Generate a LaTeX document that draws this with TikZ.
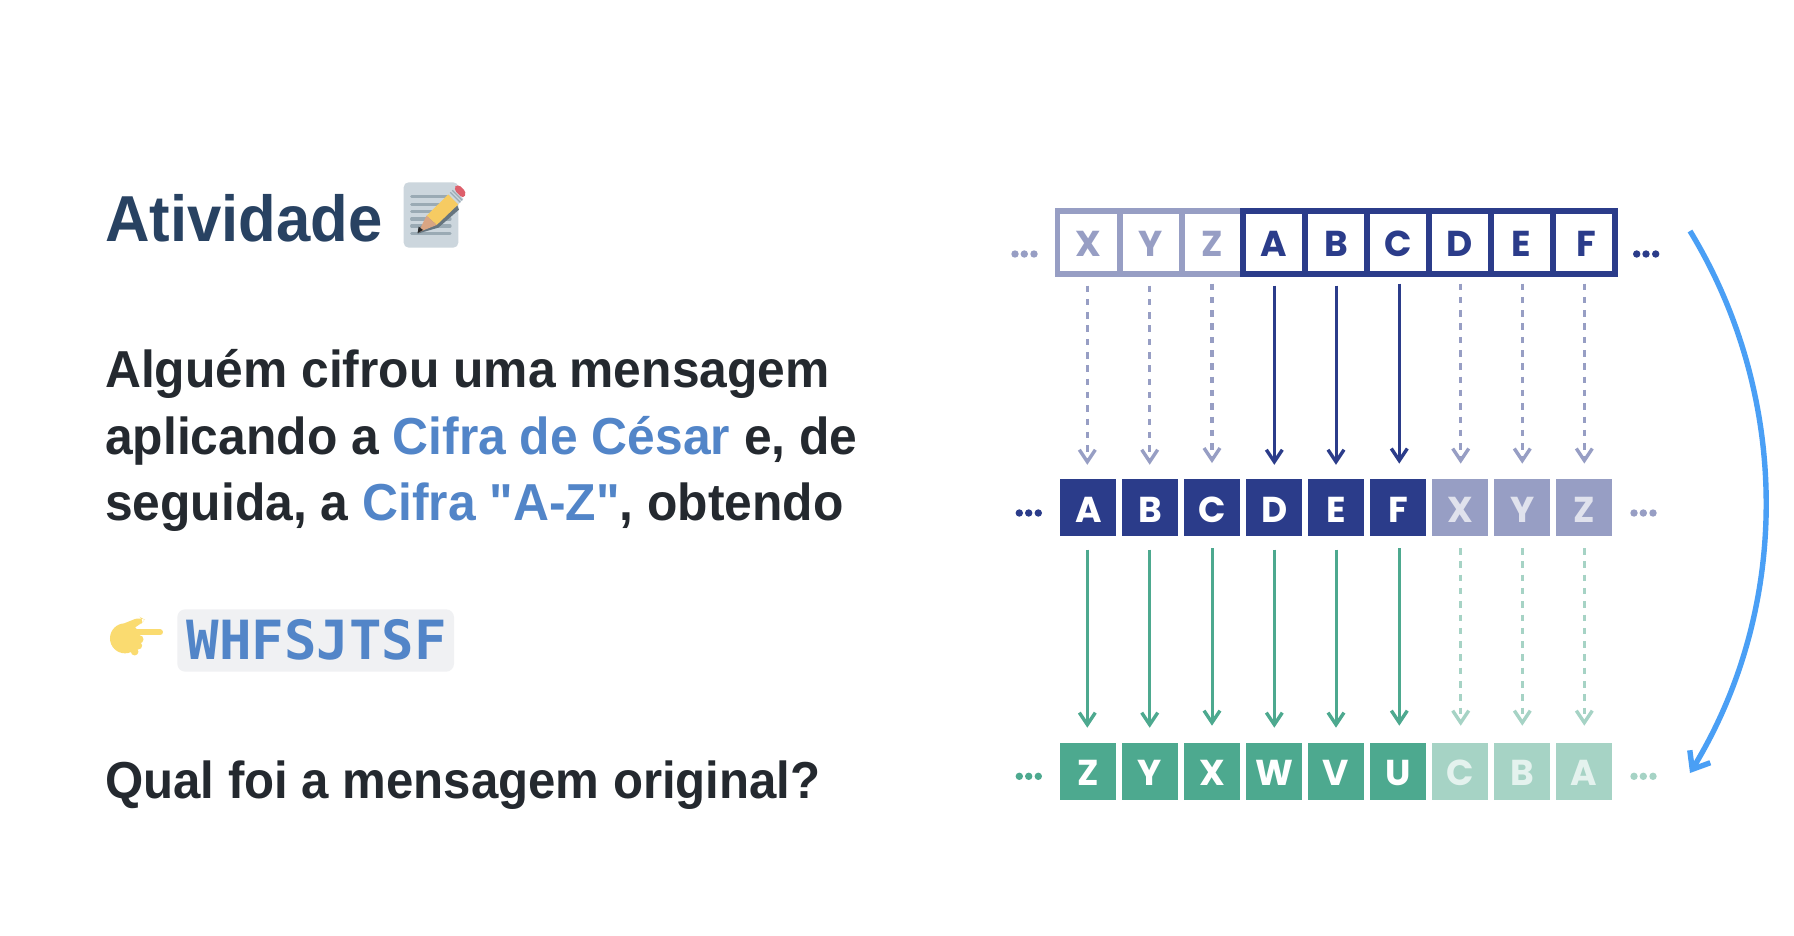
\documentclass[tikz,border=0pt]{standalone}
\usepackage{fontspec}
\setmainfont{Liberation Sans}
\newfontfamily\bodyf{Liberation Sans}[FakeStretch=0.957]
\newfontfamily\bodyg{Liberation Sans}[FakeStretch=0.945]
\newfontfamily\titlef{Liberation Sans}[FakeStretch=0.948]
\newfontfamily\popf{Poppins}
\newfontfamily\monof{DejaVu Sans Mono}
\usetikzlibrary{arrows.meta}
\definecolor{navy}{HTML}{2B3C8A}
\definecolor{navyl}{HTML}{979EC4}
\definecolor{grn}{HTML}{4DA98F}
\definecolor{grnl}{HTML}{A6D3C5}
\definecolor{blu}{HTML}{4A9FF5}
\definecolor{ttl}{HTML}{284262}
\definecolor{ink}{HTML}{24292F}
\definecolor{lnk}{HTML}{5285C8}
\definecolor{codebg}{HTML}{F0F1F3}
\definecolor{memo}{HTML}{CCD6DD}
\definecolor{memol}{HTML}{9AAAB4}
\definecolor{shad}{HTML}{66757F}
\definecolor{pyel}{HTML}{F6CB62}
\definecolor{ptan}{HTML}{D9A583}
\definecolor{pred}{HTML}{DD5F6B}
\definecolor{hand}{HTML}{FADB70}
\tikzset{
 cell/.style={minimum width=56pt,minimum height=57pt,inner sep=0pt,text height=28.4pt,text depth=0pt,font=\popf\bfseries\fontsize{36}{36}\selectfont},
 fa/.style={cell,fill=navy,text=white},
 fb/.style={cell,fill=navyl,text=white!70!navyl},
 fc/.style={cell,fill=grn,text=white},
 fd/.style={cell,fill=grnl,text=white!70!grnl},
 oa/.style={cell,minimum width=62pt,minimum height=62.5pt,draw=navy,line width=5.6pt,text=navy},
 ob/.style={cell,minimum width=62pt,minimum height=62.5pt,draw=navyl,line width=5.6pt,text=navyl},
 arr/.style={line width=3pt,-{Straight Barb[length=12pt,width=16pt,line width=3.4pt]}},
 das/.style={arr,line width=3.3pt,dash pattern=on 6.5pt off 6.8pt},
 dot/.style={circle,inner sep=0pt,minimum size=7.4pt},
 txt/.style={anchor=base west,inner sep=0pt,font=\bodyf\bfseries\fontsize{52}{52}\selectfont,text=ink},
}
\begin{document}
\begin{tikzpicture}[x=1pt,y=-1pt]
\useasboundingbox (0,0) rectangle (1794,936);
\fill[white] (0,0) rectangle (1794,936);
% text
\node[txt,text=ttl,font=\titlef\bfseries\fontsize{65}{65}\selectfont] (title) at (105,241.7) {Atividade};
\node[txt] (l1) at (105,387.5) {Alguém cifrou uma mensagem};
\node[txt] (l2) at (105,454) {aplicando a \textcolor{lnk}{Cifra de César} e, de};
\node[txt] (l3) at (105,520) {seguida, a \textcolor{lnk}{Cifra "A-Z"}, obtendo};
\node[txt,font=\bodyg\bfseries\fontsize{52}{52}\selectfont] (l4) at (105,798.3) {Qual foi a mensagem original?};
\fill[codebg,rounded corners=8pt] (177.3,609.3) rectangle (454,671.7);
\node[anchor=base west,inner sep=0pt,font=\monof\bfseries\fontsize{54}{54}\selectfont,text=lnk] (code) at (186.5,659.3) {WHFSJTSF};
% memo emoji
\begin{scope}[shift={(395,175)},x=0.3333pt,y=-0.3333pt]
 \fill[memo,rounded corners=5pt] (26,22) rectangle (190,218);
 \foreach \yy in {65,88,110,132,153,175} \draw[memol,line width=3.3pt,line cap=round] (50,\yy) -- (165,\yy);
 \fill[shad] (68,176) -- (130,158) -- (192,104) -- (184,84) -- (110,130) -- (70,160) -- cycle;
 \fill[pyel] (95,122) -- (160,58) -- (190,88) -- (125,150) -- cycle;
 \fill[ptan] (70,172) -- (95,122) -- (125,150) -- cycle;
 \fill[black!85] (68,174) -- (71,155) -- (84,165) -- cycle;
 \fill[memo] (160,58) -- (175,42) -- (205,72) -- (190,88) -- cycle;
 \draw[memol,line width=1.2pt] (166,52) -- (196,82) (172,46) -- (202,76);
 \fill[pred,rounded corners=4pt] (175,42) -- (188,26) -- (215,52) -- (205,72) -- cycle;
\end{scope}
% hand emoji
\begin{scope}[shift={(100,605)},x=0.3333pt,y=-0.3333pt]
 \fill[hand] (75,100) circle[radius=15pt];
 \fill[hand,rounded corners=6pt] (60,60) -- (120,36) -- (134,44) -- (122,58) -- (90,75) -- cycle;
 \draw[hand,line width=6pt,line cap=round] (90,82) -- (180,82);
 \fill[hand] (118,103) circle[radius=4.2pt] (115,122) circle[radius=3.8pt] (104,140) circle[radius=3.8pt];
\end{scope}
% columns of the arrows
\foreach \c/\xx in {A/1087.3,B/1149.7,C/1212,D/1274.3,E/1336,F/1399.3,X/1460.7,Y/1522.3,Z/1584.3}
  \coordinate (col\c) at (\xx,0);
% top row
\node[ob] (tX) at (1088.5,242.5) {X};
\node[ob] (tY) at (1150.8,242.5) {Y};
\node[ob] (tZ) at (1212.5,242.5) {Z};
\node[oa] (tA) at (1274,242.5) {A};
\node[oa] (tB) at (1336,242.5) {B};
\node[oa] (tC) at (1397.8,242.5) {C};
\node[oa] (tD) at (1459.7,242.5) {D};
\node[oa] (tE) at (1521.7,242.5) {E};
\node[oa] (tF) at (1583.7,242.5) {\hspace*{5pt}F};
% middle row and bottom row
\foreach \n/\t/\x/\s/\u/\v in {A/A/1088.3/fa/Z/fc,B/B/1150/fa/Y/fc,C/C/1212.2/fa/X/fc,D/D/1274.2/fa/W/fc,E/E/1336/fa/V/fc,F/F/1398/fa/U/fc,X/X/1460.2/fb/C/fd,Y/Y/1522.2/fb/B/fd,Z/Z/1584/fb/A/fd}{
  \node[\s] (m\n) at (\x,507.8) {\t};
  \node[\v] (b\n) at (\x,771.7) {\u};
}
% arrows top to middle
\foreach \t/\m/\c/\sty/\col/\sa/\sb in {
  tX/mA/A/das/navyl/9/14.3, tY/mB/B/das/navyl/9/14.3, tZ/mC/C/das/navyl/7/16,
  tA/mD/D/arr/navy/9/14.3, tB/mE/E/arr/navy/9/14.3, tC/mF/F/arr/navy/7/15.5,
  tD/mX/X/das/navyl/7/15.5, tE/mY/Y/das/navyl/7/15.5, tF/mZ/Z/das/navyl/7/15.5}
  \draw[\sty,\col,shorten <=\sa pt,shorten >=\sb pt] (\t.south -| col\c) -- (\m.north -| col\c);
% arrows middle to bottom
\foreach \m/\b/\c/\sty/\col/\sa/\sb in {
  mA/bA/A/arr/grn/13/15.3, mB/bB/B/arr/grn/13/15.3, mC/bC/C/arr/grn/11.5/17.3,
  mD/bD/D/arr/grn/13/15.3, mE/bE/E/arr/grn/13/15.3, mF/bF/F/arr/grn/11.5/17.3,
  mX/bX/X/das/grnl/11.5/17.3, mY/bY/Y/das/grnl/11.5/17.3, mZ/bZ/Z/das/grnl/11.5/17.3}
  \draw[\sty,\col,shorten <=\sa pt,shorten >=\sb pt] (\m.south -| col\c) -- (\b.north -| col\c);
% dots
\foreach \i/\x/\y/\col in {
  a/1015/254/navyl,b/1024.3/254/navyl,c/1034/254/navyl,
  d/1636.7/254/navy,e/1646/254/navy,f/1655.7/254/navy,
  g/1019.3/513/navy,h/1028.7/513/navy,i/1038.3/513/navy,
  j/1634/513/navyl,k/1643.3/513/navyl,l/1653/513/navyl,
  m/1019.3/776.3/grn,n/1028.7/776.3/grn,o/1038.3/776.3/grn,
  p/1634/776.3/grnl,q/1643.3/776.3/grnl,r/1653/776.3/grnl}
  \node[dot,fill=\col] (dot\i) at (\x,\y) {};
% big curved arrow
\coordinate (wrapS) at (1690,231);
\coordinate (wrapE) at (1690,773);
\draw[blu,line width=5.4pt,-{Straight Barb[length=15pt,width=24pt,line width=5.4pt]}] (wrapS) .. controls (1791,397) and (1791,607) .. (wrapE);
\end{tikzpicture}
\end{document}
